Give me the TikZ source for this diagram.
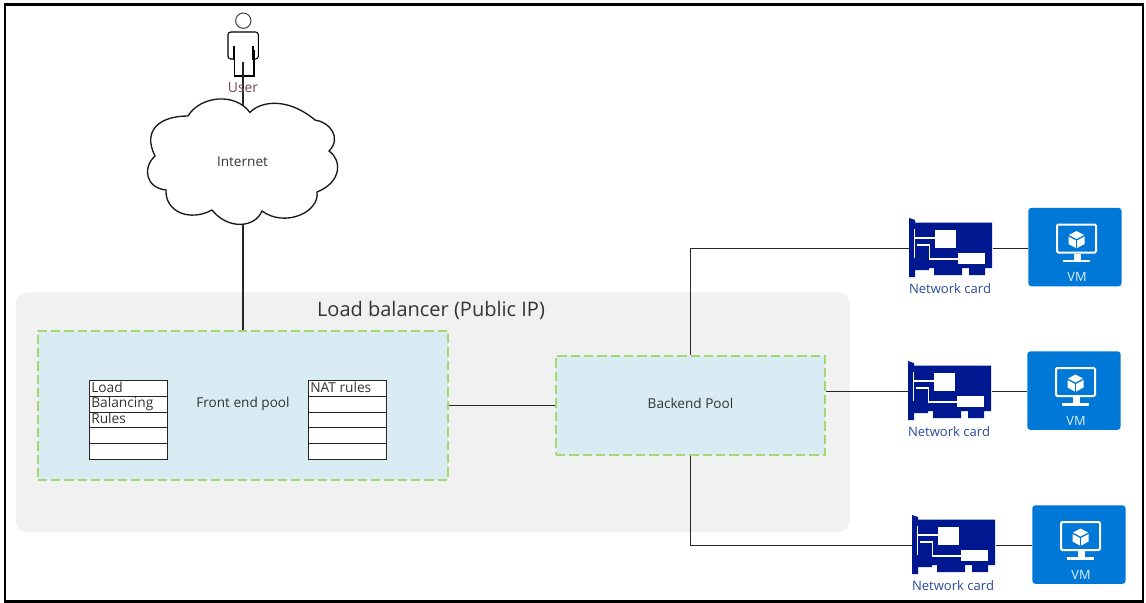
\documentclass[tikz,border=0pt]{standalone}
\usepackage{fontspec}
\setmainfont{Open Sans}
\definecolor{panel}{HTML}{F1F1F1}
\definecolor{pool}{HTML}{DAECF3}
\definecolor{poolborder}{HTML}{A2D96E}
\definecolor{cardblue}{HTML}{00188F}
\definecolor{vmblue}{HTML}{0078D7}
\definecolor{usertext}{HTML}{7A4A4A}
\definecolor{cardtext}{HTML}{2B4C9A}
\definecolor{textgrey}{HTML}{333333}
\tikzset{
  x=0.75pt,y=-0.75pt,
  conn/.style={draw=black!85,line width=0.8pt},
  poolbox/.style={draw=poolborder,fill=pool,line width=1.5pt,dash pattern=on 7pt off 3pt,anchor=north west,inner sep=0pt},
  lbl/.style={font=\fontsize{10.2}{12}\selectfont,text=textgrey,inner sep=0pt},
  celltext/.style={font=\fontsize{10.3}{12}\selectfont,text=black!80,inner sep=0pt,anchor=west},
  rowcell/.style={draw=black!85,fill=white,line width=0.8pt,anchor=north west,minimum width=58.5pt,minimum height=11.85pt,inner sep=0pt},
  slot/.style={inner sep=0pt,anchor=north west},
  pics/nic/.style={code={
    \fill[cardblue] (0,-1) -- (6,1) -- (6,3.5) -- (83,3.5) -- (83,49) -- (76,49) -- (76,56) -- (60,56) -- (60,49) -- (53,49) -- (53,56) -- (25,56) -- (25,49) -- (20,49) -- (20,51) -- (6,51) -- (6,58) -- (0,58) -- cycle;
    \fill[white] (26,11) rectangle (47,29);
    \fill[white] (49,34) rectangle (76,45);
    \draw[white,line width=0.85pt] (5.5,10) -- (5.5,39);
    \draw[white,line width=0.85pt] (5.5,19) -- (26,19);
    \draw[white,line width=0.85pt] (7.5,26) -- (20.5,26) -- (20.5,40) -- (49,40);
  }},
  pics/vmglyph/.style={code={
    \draw[white,line width=1.5pt,rounded corners=1pt] (29,17) rectangle (68,45);
    \fill[white] (45.5,46) rectangle (52.5,52);
    \fill[white] (35,52) rectangle (62,54.5);
    \fill[white] (48.5,23.5) -- (56,27.5) -- (48.5,31.5) -- (41,27.5) -- cycle;
    \fill[white] (40.5,29) -- (47.8,33) -- (47.8,40.5) -- (40.5,36.5) -- cycle;
    \fill[white] (56.5,29) -- (49.2,33) -- (49.2,40.5) -- (56.5,36.5) -- cycle;
  }},
  vmbox/.style={fill=vmblue,rounded corners=2.5pt,anchor=north west,minimum width=70pt,minimum height=59pt,inner sep=0pt},
  vmtext/.style={font=\fontsize{9.6}{10}\selectfont,text=white!88!vmblue,inner sep=0pt},
  nictext/.style={font=\fontsize{9.8}{11}\selectfont,text=cardtext,inner sep=0pt},
}
\begin{document}
\begin{tikzpicture}
\useasboundingbox (0,0) rectangle (1146,603);
\fill[white] (0,0) rectangle (1146,603);
\draw[black,line width=2.2pt] (5,4.5) rectangle (1143,601.5);

% panel and pools
\node[fill=panel,rounded corners=9pt,anchor=north west,minimum width=625.5pt,minimum height=180pt,inner sep=0pt] (panel) at (15.5,292) {};
\node[font=\fontsize{15}{17}\selectfont,text=textgrey,inner sep=0pt] (lbtitle) at (431,310) {Load balancer (Public IP)};
\node[poolbox,minimum width=307.5pt,minimum height=112pt] (front) at (36.5,329.5) {};
\node[lbl] (frontlabel) at (243,404) {Front end pool};
\node[poolbox,minimum width=201.75pt,minimum height=74.5pt] (back) at (555,354.5) {};
\node[lbl] (backlabel) at (690.5,403.5) {Backend Pool};

% rule tables
\node[rowcell] (a1) at (88.5,380) {};
\node[rowcell] (a2) at (88.5,395.8) {};
\node[rowcell] (a3) at (88.5,411.6) {};
\node[rowcell] (a4) at (88.5,427.4) {};
\node[rowcell] (a5) at (88.5,443.2) {};
\node[celltext] (a1t) at (91,387.5) {Load};
\node[celltext] (a2t) at (91,403.5) {Balancing};
\node[celltext] (a3t) at (91,418.5) {Rules};
\node[rowcell] (b1) at (307.5,380) {};
\node[rowcell] (b2) at (307.5,395.8) {};
\node[rowcell] (b3) at (307.5,411.6) {};
\node[rowcell] (b4) at (307.5,427.4) {};
\node[rowcell] (b5) at (307.5,443.2) {};
\node[celltext] (b1t) at (310,387.5) {NAT rules};

% user
\node[draw=black!75,circle,line width=0.75pt,minimum size=11.5pt,inner sep=0pt] (head) at (243.3,20.7) {};
\draw[black,line width=0.8pt,rounded corners=2pt] (234.5,59) -- (228,59) -- (228,32) -- (258.3,32) -- (258.3,59) -- (253,59);
\draw[black,line width=0.8pt] (234.8,50) -- (234.8,76) -- (254,76) -- (254,50);
\draw[black,line width=1.3pt] (234,46) -- (234,60);
\draw[black,line width=1.3pt] (252.7,46) -- (252.7,60);
\coordinate (userfoot) at (243,62);

% cloud
\node[inner sep=0pt,minimum width=142pt,minimum height=84.5pt] (internet) at (243,168.5) {};
\draw[conn,line width=1pt] (userfoot) -- (243,114);
\draw[black!90,line width=1pt,fill=white] (250,112.5)
  .. controls (258,103) and (285,95) .. (315,120)
  .. controls (330,122) and (342,138) .. (329,151)
  .. controls (342,160) and (342,182) .. (317,192)
  .. controls (320,212) and (285,228) .. (262,211)
  .. controls (255,228) and (228,230) .. (212,210)
  .. controls (190,222) and (165,212) .. (166,190)
  .. controls (146,188) and (142,168) .. (155,156)
  .. controls (142,130) and (160,116) .. (188,116)
  .. controls (200,96) and (235,92) .. (250,112.5) -- cycle;
\node[lbl] (internetlabel) at (242.5,161.5) {Internet};
\node[font=\fontsize{10.4}{12}\selectfont,text=usertext,inner sep=0pt] (userlabel) at (243,87.5) {User};

% cards and vms
\node[slot,minimum width=62.25pt,minimum height=42pt] (card1) at (909,220) {};
\pic at (909,219) {nic};
\node[nictext] (card1t) at (950,288.5) {Network card};
\node[vmbox] (vm1) at (1028,207.5) {};
\pic at (1028,207.5) {vmglyph};
\node[vmtext] (vm1t) at (1077,277) {VM};

\node[slot,minimum width=62.25pt,minimum height=42pt] (card2) at (908,363) {};
\pic at (908,362) {nic};
\node[nictext] (card2t) at (949,431.5) {Network card};
\node[vmbox] (vm2) at (1027,351) {};
\pic at (1027,351) {vmglyph};
\node[vmtext] (vm2t) at (1076,420.5) {VM};

\node[slot,minimum width=62.25pt,minimum height=42pt] (card3) at (912,517) {};
\pic at (912,516) {nic};
\node[nictext] (card3t) at (953,585.5) {Network card};
\node[vmbox] (vm3) at (1032,505) {};
\pic at (1032,505) {vmglyph};
\node[vmtext] (vm3t) at (1081,574.5) {VM};

% connectors
\draw[conn] (internet.south) -- (front.north -| internet.south);
\draw[conn] (front.east) -- (back.west);
\draw[conn] (back.north) |- (card1.west);
\draw[conn] (back.east |- card2.west) -- (card2.west);
\draw[conn] (back.south) |- (card3.west);
\draw[conn] (card1.east) -- (vm1.west |- card1.east);
\draw[conn] (card2.east) -- (vm2.west |- card2.east);
\draw[conn] (card3.east) -- (vm3.west |- card3.east);
\end{tikzpicture}
\end{document}
